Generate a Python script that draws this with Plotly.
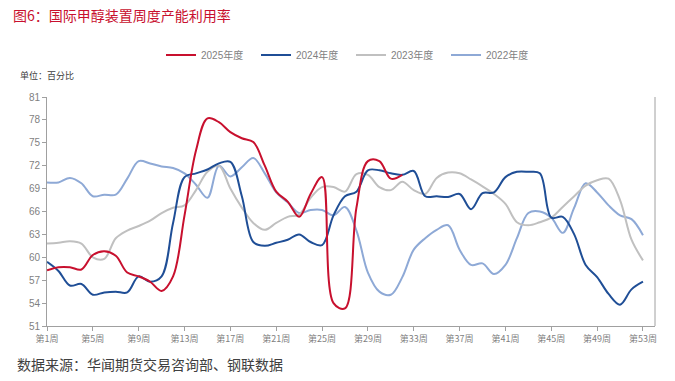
import plotly.graph_objects as go

weeks = list(range(1, 54))
tick_weeks = list(range(1, 54, 4))
tick_labels = [f"第{w}周" for w in tick_weeks]

y2025 = [58.3, 58.7, 58.7, 58.4, 60.3, 60.8, 60.2, 58.0, 57.5, 56.8,
         55.6, 57.5, 65.5, 74.0, 78.2, 77.7, 76.4, 75.6, 75.1, 72.0,
         68.6, 67.3, 65.3, 68.3, 70.5, 54.0, 53.3, 66.5, 72.6, 72.6,
         70.3, 70.8]

y2024 = [59.4, 58.2, 56.3, 56.5, 55.1, 55.4, 55.5, 55.4, 57.5, 56.8,
         57.5, 64.5, 70.5, 71.0, 71.5, 72.3, 72.5, 68.0, 62.0, 61.5,
         61.9, 62.3, 63.0, 62.0, 61.6, 65.5, 68.0, 68.6, 71.4, 71.4,
         71.0, 70.8, 71.3, 68.0, 68.0, 67.9, 68.3, 66.3, 68.4, 68.5,
         70.5, 71.2, 71.2, 71.0, 65.2, 65.3, 63.0, 59.0, 57.4, 55.2,
         53.8, 55.8, 56.8]

y2023 = [61.8, 61.9, 62.1, 61.8, 60.0, 59.8, 62.5, 63.5, 64.1, 64.8,
         65.8, 66.5, 66.8, 68.8, 71.2, 72.0, 69.0, 66.5, 64.5, 63.6,
         64.5, 65.3, 65.6, 67.8, 69.2, 69.2, 68.6, 70.9, 70.8, 69.2,
         68.8, 69.9, 68.8, 68.3, 70.4, 71.1, 71.0, 70.2, 69.3, 68.3,
         67.0, 64.6, 64.2, 64.6, 65.2, 66.6, 68.0, 69.4, 70.1, 70.3,
         67.5, 62.3, 59.6]

y2022 = [69.8, 69.8, 70.4, 69.7, 68.0, 68.2, 68.2, 70.3, 72.6, 72.3,
         71.9, 71.7, 71.0, 69.5, 67.8, 72.0, 70.6, 71.8, 73.0, 71.0,
         68.5, 67.2, 65.8, 66.2, 66.2, 65.5, 66.6, 63.5, 58.0, 55.5,
         55.1, 57.4, 61.0, 62.5, 63.6, 64.2, 61.0, 59.0, 59.2, 57.8,
         59.0, 62.5, 65.8, 66.0, 65.2, 63.2, 66.5, 69.7, 68.5, 66.8,
         65.5, 65.0, 62.9]

series = [
    ("2025年度", y2025, "#C8102E"),
    ("2024年度", y2024, "#1F4E96"),
    ("2023年度", y2023, "#C0C0C0"),
    ("2022年度", y2022, "#8EA9D6"),
]
ranks = {"2025年度": 1, "2024年度": 2, "2023年度": 3, "2022年度": 4}

fig = go.Figure()
for name, vals, color in reversed(series):
    fig.add_trace(go.Scatter(
        x=weeks[:len(vals)], y=vals, name=name, mode="lines",
        line=dict(color=color, width=2, shape="spline", smoothing=1.0),
        legendrank=ranks[name],
    ))

font_cjk = "Noto Sans CJK SC"
axis_col = "#A0A0A0"
tick_font = dict(family="Liberation Sans, " + font_cjk, size=10, color="#7F7F7F")

fig.update_layout(
    width=675, height=381,
    margin=dict(l=47, r=20, t=97, b=55, autoexpand=False),
    paper_bgcolor="white", plot_bgcolor="white",
    font=dict(family=font_cjk),
    title=dict(text="图6：国际甲醇装置周度产能利用率", x=13 / 675, xref="container",
               y=1 - 16 / 381, yref="container", xanchor="left", yanchor="middle",
               font=dict(family=font_cjk, size=14, color="#C8102E")),
    legend=dict(orientation="h", x=0.5, xanchor="center", y=1 + (97 - 55) / 229,
                yanchor="middle", font=dict(family="Liberation Sans, " + font_cjk, size=10, color="#7F7F7F"),
                traceorder="normal", entrywidth=50, entrywidthmode="pixels"),
    showlegend=True,
)

fig.update_xaxes(range=[1, 54.05], tickvals=tick_weeks, ticktext=tick_labels,
                 showgrid=False, zeroline=False, showline=True, linecolor=axis_col,
                 linewidth=1, ticks="outside", ticklen=4, tickcolor=axis_col,
                 tickfont=dict(family=font_cjk, size=9, color="#7F7F7F"))
fig.update_yaxes(range=[51, 81], dtick=3, tick0=51, showgrid=False, zeroline=False,
                 showline=True, linecolor=axis_col, linewidth=1, ticks="outside",
                 ticklen=4, tickcolor=axis_col, tickfont=tick_font)

fig.add_shape(type="line", xref="paper", yref="paper", x0=1, x1=1, y0=0, y1=1,
              line=dict(color=axis_col, width=1))

fig.add_annotation(text="单位：百分比", xref="paper", yref="paper",
                   x=(18 - 47) / 608, y=1 + (97 - 76) / 229, xanchor="left", yanchor="middle",
                   showarrow=False, font=dict(family=font_cjk, size=9, color="#404040"))
fig.add_annotation(text="数据来源：华闻期货交易咨询部、钢联数据", xref="paper", yref="paper",
                   x=(15 - 47) / 608, y=-(364 - 326) / 229, xanchor="left", yanchor="middle",
                   showarrow=False, font=dict(family=font_cjk, size=14, color="#404040"))

fig.write_html("out.html", config={"displayModeBar": False},
               post_script="document.body.style.margin='0';")
